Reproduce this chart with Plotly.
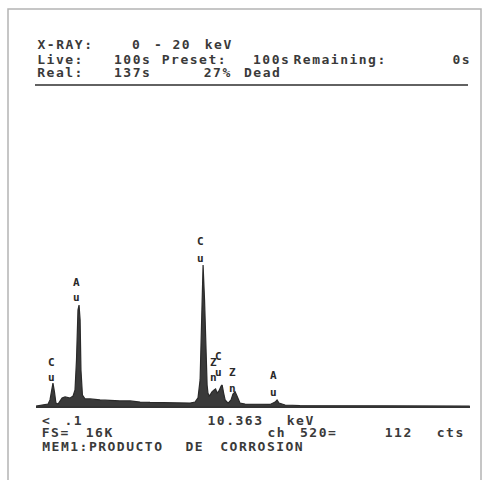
import plotly.graph_objects as go

# ---- data ----
energy_kev = [0.14, 0.52, 0.71, 0.80, 0.87, 0.94, 1.01, 1.08, 1.18, 1.27, 1.37, 1.51, 1.65, 1.75,
              1.89, 1.98, 2.05, 2.12, 2.17, 2.22, 2.26, 2.33, 2.45, 2.69, 3.16, 3.63, 4.10, 4.58,
              5.05, 5.52, 5.99, 6.46, 6.93, 7.41, 7.64, 7.78, 7.88, 7.95, 8.02, 8.09, 8.14, 8.21,
              8.25, 8.30, 8.35, 8.44, 8.54, 8.61, 8.68, 8.77, 8.87, 8.92, 8.99, 9.06, 9.20, 9.34,
              9.43, 9.53, 9.60, 9.67, 9.76, 10.0, 10.71, 11.18, 11.42, 11.51, 11.60, 11.89, 12.59,
              14.95, 17.31, 20.6]
counts = [0, 50, 100, 310, 820, 1170, 720, 150, 100, 260, 410, 460, 410, 410,
          510, 820, 2350, 4900, 5150, 4390, 1840, 560, 360, 360, 310, 280, 260, 260,
          200, 180, 180, 180, 150, 150, 200, 410, 1330, 4390, 7200, 5410, 2860, 1070,
          660, 510, 560, 720, 820, 870, 660, 770, 1020, 1070, 660, 310, 150, 310,
          610, 720, 560, 360, 150, 100, 80, 80, 200, 310, 150, 50, 25,
          25, 0, 0]

label_elements = ["Cu", "Au", "Cu", "Zn", "Cu", "Zn", "Au"]
label_energy_kev = [0.85, 2.03, 7.88, 8.49, 8.73, 9.43, 11.32]

header_rows = [
    [("X-RAY:", 35), ("0", 130), ("-", 152), ("20", 170), ("keV", 203)],
    [("Live:", 35), ("100s", 112), ("Preset:", 160), ("100s", 251), ("Remaining:", 291), ("0s", 450)],
    [("Real:", 35), ("137s", 112), ("27%", 202), ("Dead", 242)],
]
footer_rows = [
    [("<", 40), (".1", 62), ("10.363", 205), ("keV", 285)],
    [("FS=", 40), ("16K", 84), ("ch", 265), ("520=", 298), ("112", 383), ("cts", 435)],
    [("MEM1:PRODUCTO", 40), ("DE", 183), ("CORROSION", 218)],
]

# ---- layout helpers (pixel -> paper) ----
W, H = 485, 480
L, R, T, B = 36, 470, 85, 406
def px(x):
    return (x - L) / (R - L)
def py(y):
    return (B - y) / (B - T)

FONT = "DejaVu Sans Mono"
TXT = "#3a3a3a"
SPACING = 1.5  # extra px between letters of the screen font

fig = go.Figure()
fig.add_trace(go.Scatter(x=energy_kev, y=counts, mode="lines",
                         line=dict(color="#2a2a2a", width=1.2),
                         fill="tozeroy", fillcolor="#3a3a3a",
                         hoverinfo="skip", showlegend=False))

annotations = []
for rows, ys in ((header_rows, [45, 59, 72]), (footer_rows, [420, 433, 447])):
    for row, yy in zip(rows, ys):
        for text, xx in row:
            shift = SPACING * len(text) / 2.0 if len(text) > 1 else 0.0
            annotations.append(dict(text="<b>%s</b>" % text, x=px(xx + shift), y=py(yy),
                                    xref="paper", yref="paper",
                                    xanchor="left", yanchor="middle", showarrow=False,
                                    font=dict(family=FONT, size=13, color=TXT)))

label_y = [(362, 377), (282, 297), (241, 258), (362, 377), (356, 372), (372, 388), (375, 392)]
for el, e, (y1, y2) in zip(label_elements, label_energy_kev, label_y):
    for ch, yy in zip(el, (y1, y2)):
        annotations.append(dict(text="<b>%s</b>" % ch, x=e, y=py(yy), xref="x", yref="paper",
                                xanchor="center", yanchor="middle", showarrow=False,
                                font=dict(family=FONT, size=11, color="#2a2a2a")))

shapes = [
    dict(type="line", xref="paper", yref="paper", x0=px(35), x1=px(468), y0=py(85), y1=py(85),
         line=dict(color="#2e2e2e", width=1.5)),
    dict(type="rect", xref="paper", yref="paper", x0=px(8), x1=px(481), y0=py(490), y1=py(9),
         line=dict(color="#b4b4b4", width=1.5)),
]

fig.update_layout(
    width=W, height=H,
    margin=dict(l=L, r=W - R, t=T, b=H - B),
    paper_bgcolor="white", plot_bgcolor="white",
    xaxis=dict(range=[0.14, 20.61], showgrid=False, zeroline=False, showticklabels=False,
               ticks="", showline=True, linecolor="#333333", linewidth=2, fixedrange=True),
    yaxis=dict(range=[0, 16384], showgrid=False, zeroline=False, showticklabels=False,
               ticks="", showline=False, fixedrange=True),
    annotations=annotations, shapes=shapes,
)

post = """
document.body.style.margin='0';document.body.style.padding='0';
var gd=document.getElementById('{plot_id}');
function wideText(){
  gd.querySelectorAll('text.annotation-text').forEach(function(t){
    if(t.textContent.length>1){t.style.letterSpacing='%spx';}
  });
}
wideText(); setTimeout(wideText,30); setTimeout(wideText,300);
if(gd.on){gd.on('plotly_afterplot', wideText);}
""" % SPACING
fig.write_html("out.html", config={"displayModeBar": False}, post_script=post)
